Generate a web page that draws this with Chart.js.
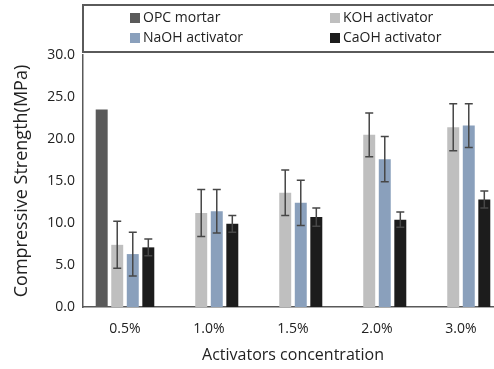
<!DOCTYPE html>
<html>
<head>
<meta charset="utf-8">
<script src="https://cdn.jsdelivr.net/npm/chart.js@4.4.1/dist/chart.umd.min.js"></script>
<style>
  html, body { margin: 0; padding: 0; background: #fff; overflow: hidden; }
  /* the source figure is cropped on the right, so the canvas runs a little past the window */
  #wrap { width: 494px; height: 369px; overflow: hidden; }
</style>
</head>
<body>
<div id="wrap"><canvas id="chart" width="503" height="369"></canvas></div>
<script>
"use strict";

// Values
const categories = ["0.5%", "1.0%", "1.5%", "2.0%", "3.0%"];
const opcMortar  = [23.5, null, null, null, null];
const kohValues  = [7.4, 11.2, 13.6, 20.5, 21.4];
const kohErrors  = [2.8, 2.8, 2.7, 2.6, 2.8];
const naohValues = [6.3, 11.4, 12.4, 17.6, 21.6];
const naohErrors = [2.6, 2.6, 2.7, 2.7, 2.6];
const caohValues = [7.1, 9.9, 10.7, 10.4, 12.8];
const caohErrors = [1.0, 1.0, 1.1, 0.9, 1.0];
const yTicks     = [0, 5, 10, 15, 20, 25, 30];

const C = {
  opc:   "#5a5a5a",
  koh:   "#bfbfbf",
  naoh:  "#8aa0bc",
  caoh:  "#1c1c1c",
  axis:  "#595959",
  err:   "#474747",
  text:  "#222222",
};
const FONT = "'Open Sans', sans-serif";

// Vertical error bars with caps, drawn over each bar
const errorBarPlugin = {
  id: "errorBars",
  afterDatasetsDraw(chart) {
    const { ctx, scales } = chart;
    ctx.save();
    ctx.strokeStyle = C.err;
    ctx.lineWidth = 1.5;
    chart.data.datasets.forEach((ds, di) => {
      if (!ds.errors) return;
      chart.getDatasetMeta(di).data.forEach((bar, i) => {
        const v = ds.data[i], e = ds.errors[i];
        if (v == null || e == null) return;
        const yTop = scales.y.getPixelForValue(v + e);
        const yBot = scales.y.getPixelForValue(v - e);
        ctx.beginPath();
        ctx.moveTo(bar.x, yTop);
        ctx.lineTo(bar.x, yBot);
        ctx.moveTo(bar.x - 4, yTop);
        ctx.lineTo(bar.x + 4, yTop);
        ctx.moveTo(bar.x - 4, yBot);
        ctx.lineTo(bar.x + 4, yBot);
        ctx.stroke();
      });
    });
    ctx.restore();
  },
};

// Boxed two-column legend above the plot (box runs off the right edge)
const boxLegendPlugin = {
  id: "boxLegend",
  afterDraw(chart) {
    const { ctx, chartArea } = chart;
    const slots = [
      { x: 130, y: 18 }, { x: 330, y: 18 },
      { x: 130, y: 38 }, { x: 330, y: 38 },
    ];
    const left = chartArea.left, top = 5, bottom = 52, right = chart.width + 20;
    ctx.save();
    ctx.fillStyle = "#fff";
    ctx.fillRect(left, top, right - left, bottom - top);
    ctx.strokeStyle = "#5a5a5a";
    ctx.lineWidth = 2;
    ctx.beginPath();
    ctx.moveTo(right, top);
    ctx.lineTo(left, top);
    ctx.lineTo(left, bottom);
    ctx.lineTo(right, bottom);
    ctx.stroke();
    ctx.font = `14px ${FONT}`;
    ctx.textBaseline = "middle";
    ctx.textAlign = "left";
    chart.data.datasets.forEach((ds, i) => {
      const s = slots[i];
      ctx.fillStyle = ds.backgroundColor;
      ctx.fillRect(s.x, s.y - 5, 10, 10);
      ctx.fillStyle = C.text;
      ctx.fillText(ds.label, s.x + 13, s.y);
    });
    ctx.restore();
  },
};

new Chart(document.getElementById("chart"), {
  type: "bar",
  data: {
    labels: categories,
    datasets: [
      { label: "OPC mortar",     data: opcMortar,  backgroundColor: C.opc },
      { label: "KOH activator",  data: kohValues,  errors: kohErrors,  backgroundColor: C.koh },
      { label: "NaOH activator", data: naohValues, errors: naohErrors, backgroundColor: C.naoh },
      { label: "CaOH activator", data: caohValues, errors: caohErrors, backgroundColor: C.caoh },
    ],
  },
  options: {
    responsive: false,
    animation: false,
    devicePixelRatio: 1,
    layout: { padding: { left: 0, top: 55, right: 0, bottom: 0 } },
    datasets: { bar: { categoryPercentage: 0.74, barPercentage: 0.77 } },
    plugins: {
      legend: { display: false },
      tooltip: { enabled: false },
    },
    scales: {
      x: {
        grid: { display: false, drawTicks: false },
        border: { color: C.axis, width: 1.5 },
        ticks: { font: { family: FONT, size: 14 }, color: C.text, padding: 14, maxRotation: 0 },
        title: {
          display: true,
          text: "Activators concentration",
          font: { family: FONT, size: 16 },
          color: C.text,
          padding: { top: 0, bottom: 4 },
        },
        afterFit: (scale) => { scale.height = 62; },
      },
      y: {
        min: 0,
        max: 30,
        afterBuildTicks: (scale) => { scale.ticks = yTicks.map((v) => ({ value: v })); },
        grid: { display: false, drawTicks: false },
        border: { color: C.axis, width: 1.5 },
        ticks: {
          font: { family: FONT, size: 14 },
          color: C.text,
          padding: 8,
          callback: (v) => Number(v).toFixed(1),
        },
        title: {
          display: true,
          text: "Compressive Strength(MPa)",
          font: { family: FONT, size: 18 },
          color: C.text,
          padding: { top: 11, bottom: 0 },
        },
        afterFit: (scale) => { scale.width = 83; },
      },
    },
  },
  plugins: [errorBarPlugin, boxLegendPlugin],
});
</script>
</body>
</html>
